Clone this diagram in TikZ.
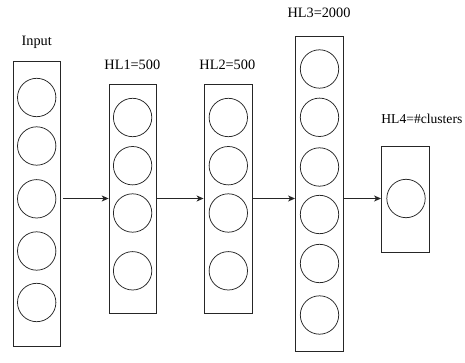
\documentclass[tikz,border=0pt]{standalone}
\usepackage{fontspec}
\setmainfont{Liberation Serif}
\usetikzlibrary{arrows.meta}
\begin{document}
\begin{tikzpicture}[x=1pt,y=-1pt,
  layerbox/.style={draw=black!85,line width=0.9pt,rectangle,inner sep=0pt},
  neuron/.style={draw=black!85,line width=0.75pt,circle,minimum size=38.4pt,inner sep=0pt},
  lbl/.style={font=\fontsize{14.3}{16}\selectfont,anchor=base,inner sep=0pt},
  arr/.style={draw=black!85,line width=0.9pt,-{Stealth[length=7pt,width=6pt,inset=2pt]}}]
\useasboundingbox (0,0) rectangle (465,363);
% boxes
\node[layerbox,minimum width=47.4pt,minimum height=285pt] (inp) at (37,204.2) {};
\node[layerbox,minimum width=47pt,minimum height=228.5pt] (h1) at (132.6,199) {};
\node[layerbox,minimum width=48.6pt,minimum height=229pt] (h2) at (228.3,198.5) {};
\node[layerbox,minimum width=48pt,minimum height=315.5pt] (h3) at (319.5,193.8) {};
\node[layerbox,minimum width=48pt,minimum height=106pt] (h4) at (405.5,199) {};
% labels
\node[lbl] (linp) at (36.7,46) {Input};
\node[lbl] (lh1) at (132.3,70) {HL1=500};
\node[lbl] (lh2) at (227.3,70) {HL2=500};
\node[lbl] (lh3) at (319,17.7) {HL3=2000};
\node[lbl,anchor=base west,font=\fontsize{13.6}{15}\selectfont] (lh4) at (381.2,123.5) {HL4=\#clusters};
% input neurons
\node[neuron] (i1) at (36.7,97.5) {};
\node[neuron] (i2) at (36.7,146) {};
\node[neuron] (i3) at (36.7,198.8) {};
\node[neuron] (i4) at (36.7,251) {};
\node[neuron] (i5) at (36.7,302.5) {};
% HL1 neurons
\node[neuron] (a1) at (132.6,117.5) {};
\node[neuron] (a2) at (132.6,165.7) {};
\node[neuron] (a3) at (132.6,213) {};
\node[neuron] (a4) at (132.6,270.8) {};
% HL2 neurons
\node[neuron] (b1) at (228.3,117.5) {};
\node[neuron] (b2) at (228.3,165.7) {};
\node[neuron] (b3) at (228.3,213) {};
\node[neuron] (b4) at (228.3,270.8) {};
% HL3 neurons
\node[neuron] (c1) at (319.5,69) {};
\node[neuron] (c2) at (319.5,117.3) {};
\node[neuron] (c3) at (319.5,167) {};
\node[neuron] (c4) at (319.5,214.5) {};
\node[neuron] (c5) at (319.5,263.5) {};
\node[neuron] (c6) at (319.5,315) {};
% HL4 neuron
\node[neuron] (d1) at (406,198.5) {};
% arrows
\coordinate (y0) at (0,198.5);
\draw[arr] ([xshift=2pt]inp.east |- y0) -- (h1.west |- y0);
\draw[arr] (h1.east |- y0) -- (h2.west |- y0);
\draw[arr] (h2.east |- y0) -- (h3.west |- y0);
\draw[arr] (h3.east |- y0) -- (h4.west |- y0);
\end{tikzpicture}
\end{document}
